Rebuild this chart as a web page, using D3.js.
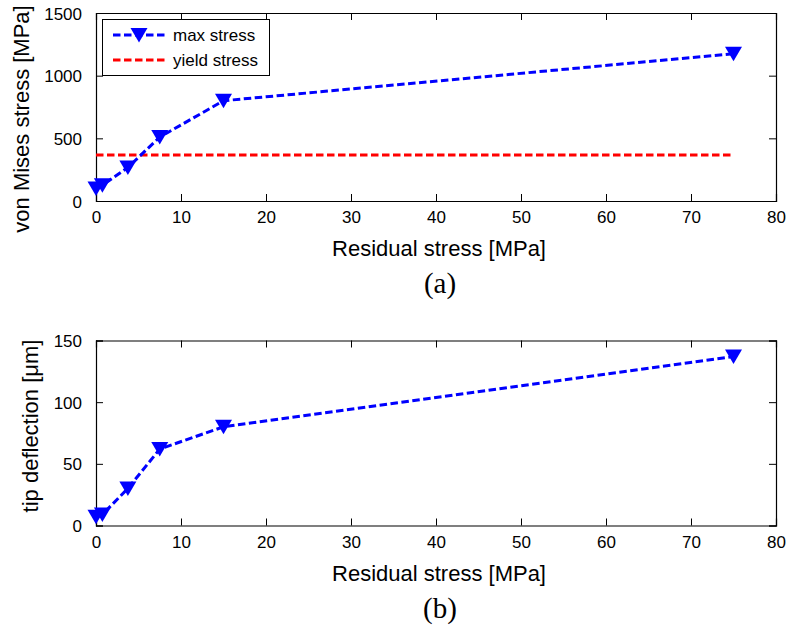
<!DOCTYPE html>
<html><head><meta charset="utf-8">
<script src="https://cdn.jsdelivr.net/npm/d3@7"></script>
<style>
body{margin:0;background:#fff;}
svg{display:block;font-family:"Liberation Sans",Arial,Helvetica,sans-serif;}
</style></head>
<body><svg id="c" width="791" height="625"></svg>
<script>
// ---- data ----
const residualStress = [0, 0.75, 3.75, 7.5, 15, 75];
const maxStress = [100, 125, 268, 510, 800, 1175];
const yieldStress = 367;
const yieldRange = [0, 75];
const tipDeflection = [7, 9, 30, 62, 80, 137];
const xTicks = [0, 10, 20, 30, 40, 50, 60, 70, 80];
const yTicksA = [0, 500, 1000, 1500];
const yTicksB = [0, 50, 100, 150];
const legendLabels = ["max stress", "yield stress"];

const svg = d3.select("#c");
const BLUE = "#0000ff", RED = "#ff0000";
const DASH = "7.5,3.5", LW = 3;

function tri(sel) {
  // downward triangle centred on its bounding box
  sel.attr("d", "M-8.5,-7L8.5,-7L0,7.5Z").attr("fill", BLUE);
}

function panel(opts) {
  const {top, bottom, left, right, yDomain, yTicks, yVals, ylabel, ylabelX, ylabelY, tag, showYield, showLegend} = opts;
  const g = svg.append("g");
  const x = d3.scaleLinear().domain([0, 80]).range([left, right]);
  const y = d3.scaleLinear().domain(yDomain).range([bottom, top]);
  const tl = 7;
  const axB = d3.axisBottom(x).tickValues(xTicks).tickSize(-tl).tickPadding(0).tickFormat(d3.format("d"));
  const axT = d3.axisTop(x).tickValues(xTicks).tickSize(-tl).tickFormat("");
  const axL = d3.axisLeft(y).tickValues(yTicks).tickSize(-tl).tickFormat(d3.format("d"));
  const axR = d3.axisRight(y).tickValues(yTicks).tickSize(-tl).tickFormat("");
  const gb = g.append("g").attr("transform", `translate(0,${bottom})`).call(axB);
  const gt = g.append("g").attr("transform", `translate(0,${top})`).call(axT);
  const gl = g.append("g").attr("transform", `translate(${left},0)`).call(axL);
  const gr = g.append("g").attr("transform", `translate(${right},0)`).call(axR);
  [gb, gt, gl, gr].forEach(a => {
    a.selectAll(".domain").attr("stroke", "#000").attr("stroke-width", 1.2);
    a.selectAll(".tick line").attr("stroke", "#000").attr("stroke-width", 1);
    a.selectAll("text").attr("fill", "#000").style("font-size", "17px").style("font-family", "'Liberation Sans',Arial,sans-serif");
  });
  gb.selectAll(".tick text").attr("y", 0).attr("dy", "22px");
  gl.selectAll(".tick text").attr("x", -14).attr("dy", "0.36em");

  if (showYield) {
    g.append("line")
      .attr("x1", x(yieldRange[0])).attr("x2", x(yieldRange[1]))
      .attr("y1", y(yieldStress)).attr("y2", y(yieldStress))
      .attr("stroke", RED).attr("stroke-width", LW).attr("stroke-dasharray", DASH);
  }
  const pts = residualStress.map((r, i) => [r, yVals[i]]);
  g.append("path").datum(pts)
    .attr("d", d3.line().x(d => x(d[0])).y(d => y(d[1])))
    .attr("fill", "none").attr("stroke", BLUE).attr("stroke-width", LW).attr("stroke-dasharray", DASH);
  g.selectAll(".mk").data(pts).enter().append("path")
    .attr("transform", d => `translate(${x(d[0])},${y(d[1])})`).call(tri);

  g.append("text").attr("x", 439).attr("y", bottom + 55)
    .attr("text-anchor", "middle").style("font-size", "22px").text("Residual stress [MPa]");
  g.append("text").attr("transform", `translate(${ylabelX},${ylabelY}) rotate(-90)`)
    .attr("text-anchor", "middle").style("font-size", "22px").text(ylabel);
  g.append("text").attr("x", 440).attr("y", bottom + 92)
    .attr("text-anchor", "middle").style("font-family", "'Liberation Serif','Times New Roman',serif")
    .style("font-size", "29px").text(tag);

  if (showLegend) {
    const lg = g.append("g");
    lg.append("rect").attr("x", 102.5).attr("y", 19.5).attr("width", 167).attr("height", 56)
      .attr("fill", "#fff").attr("stroke", "#000").attr("stroke-width", 1);
    const rows = [35, 60];
    lg.append("line").attr("x1", 113).attr("x2", 165).attr("y1", rows[0]).attr("y2", rows[0])
      .attr("stroke", BLUE).attr("stroke-width", LW).attr("stroke-dasharray", DASH);
    lg.append("path").attr("transform", `translate(139,${rows[0]})`).call(tri);
    lg.append("line").attr("x1", 113).attr("x2", 165).attr("y1", rows[1]).attr("y2", rows[1])
      .attr("stroke", RED).attr("stroke-width", LW).attr("stroke-dasharray", DASH);
    legendLabels.forEach((t, i) => {
      lg.append("text").attr("x", 173).attr("y", rows[i]).attr("dy", "0.36em")
        .style("font-size", "17px").text(t);
    });
  }
}

panel({top: 13, bottom: 201, left: 96, right: 776, yDomain: [0, 1500], yTicks: yTicksA, yVals: maxStress,
  ylabel: "von Mises stress [MPa]", ylabelX: 29, ylabelY: 119, tag: "(a)", showYield: true, showLegend: true});
panel({top: 340.5, bottom: 525.5, left: 96, right: 776, yDomain: [0, 150], yTicks: yTicksB, yVals: tipDeflection,
  ylabel: "tip deflection [\u03bcm]", ylabelX: 38, ylabelY: 426, tag: "(b)", showYield: false, showLegend: false});
</script></body></html>
